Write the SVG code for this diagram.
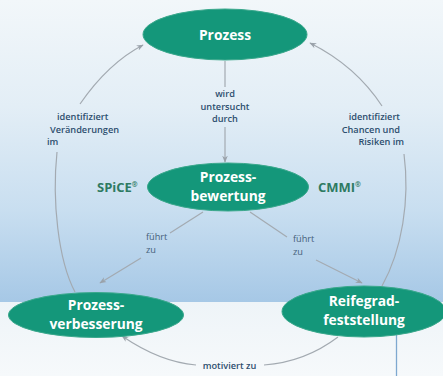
<svg xmlns="http://www.w3.org/2000/svg" width="443" height="376" viewBox="0 0 443 376">
<defs>
<linearGradient id="bgTop" x1="0" y1="0" x2="0" y2="1">
<stop offset="0" stop-color="#f2f7fa"/>
<stop offset="0.35" stop-color="#e3eef6"/>
<stop offset="0.7" stop-color="#c8def0"/>
<stop offset="1" stop-color="#a6c8e6"/>
</linearGradient>
<linearGradient id="bgBot" x1="0" y1="0" x2="0" y2="1">
<stop offset="0" stop-color="#eef4f8"/>
<stop offset="1" stop-color="#f6f9fb"/>
</linearGradient>
<marker id="arr" viewBox="0 0 10 10" refX="9" refY="5" markerWidth="7" markerHeight="7" orient="auto" markerUnits="userSpaceOnUse">
<path d="M0,1 L10,5 L0,9 L3,5 Z" fill="#9aa2aa"/>
</marker>
<style>
.node{fill:#14977a;stroke:#3aa88c;stroke-width:1}
.nt{font-family:"Open Sans","Noto Sans",sans-serif;font-weight:bold;fill:#ffffff;text-anchor:middle;font-size:13.8px}
.el{font-family:"Open Sans","Noto Sans",sans-serif;font-weight:600;fill:#2d4e6e;font-size:9.2px}
.elr{font-family:"Open Sans","Noto Sans",sans-serif;font-weight:normal;fill:#45607a;font-size:9.2px}
.std{font-family:"Open Sans","Noto Sans",sans-serif;font-weight:bold;fill:#2e7a62;font-size:13px}
.c{fill:none;stroke:#a3aab1;stroke-width:1.2}
</style>
</defs>
<rect x="0" y="0" width="443" height="302" fill="url(#bgTop)"/>
<rect x="0" y="302" width="443" height="74" fill="url(#bgBot)"/>
<line x1="396.5" y1="328" x2="396.5" y2="376" stroke="#7ea8d0" stroke-width="1.3"/>
<g id="connectors">
<path class="c" d="M225 61 L225 87"/>
<path class="c" d="M225 127 L225 162" marker-end="url(#arr)"/>
<path class="c" d="M75 292 C58 260 52 200 57 152"/>
<path class="c" d="M80 104 C100 75 120 57 143 45" marker-end="url(#arr)"/>
<path class="c" d="M382 286 C402 250 410 200 404 154"/>
<path class="c" d="M382 106 C365 80 340 58 310 43" marker-end="url(#arr)"/>
<path class="c" d="M203 212 L170 233"/>
<path class="c" d="M141 258 L100 283" marker-end="url(#arr)"/>
<path class="c" d="M250 212 L287 237"/>
<path class="c" d="M316 260 L362 283" marker-end="url(#arr)"/>
<path class="c" d="M338 337 Q305 362 264 365"/>
<path class="c" d="M196 365 Q160 362 122 336" marker-end="url(#arr)"/>
<text class="el" text-anchor="middle"><tspan x="225" y="97">wird</tspan><tspan x="225" y="109.5">untersucht</tspan><tspan x="225" y="122">durch</tspan></text>
<text class="el"><tspan x="57" y="120">identifiziert</tspan><tspan x="50" y="132.5">Veränderungen</tspan><tspan x="47" y="145">im</tspan></text>
<text class="el" text-anchor="end"><tspan x="400" y="120">identifiziert</tspan><tspan x="400" y="132.5">Chancen und</tspan><tspan x="404" y="145">Risiken im</tspan></text>
<text class="elr"><tspan x="146" y="240">führt</tspan><tspan x="146" y="252.5">zu</tspan></text>
<text class="elr"><tspan x="293" y="242">führt</tspan><tspan x="293" y="254.5">zu</tspan></text>
<text class="el" x="229.5" y="369" text-anchor="middle">motiviert zu</text>
</g>
<g id="prozess">
<ellipse class="node" cx="225" cy="34.5" rx="82" ry="25.5"/>
<text class="nt" x="225" y="39.5">Prozess</text>
</g>
<g id="prozessbewertung">
<ellipse class="node" cx="228" cy="187" rx="80.5" ry="24"/>
<text class="nt"><tspan x="228" y="182">Prozess-</tspan><tspan x="228" y="200.5">bewertung</tspan></text>
</g>
<g id="spice">
<text class="std" x="97" y="192">SPiCE<tspan font-size="7" dy="-5">®</tspan></text>
</g>
<g id="cmmi">
<text class="std" x="318" y="192">CMMI<tspan font-size="7" dy="-5">®</tspan></text>
</g>
<g id="prozessverbesserung">
<ellipse class="node" cx="96" cy="315" rx="87.5" ry="22.5"/>
<text class="nt"><tspan x="96" y="310">Prozess-</tspan><tspan x="96" y="328.5">verbesserung</tspan></text>
</g>
<g id="reifegradfeststellung">
<ellipse class="node" cx="364" cy="311.5" rx="82" ry="25.5"/>
<text class="nt"><tspan x="364" y="306">Reifegrad-</tspan><tspan x="364" y="324.5">feststellung</tspan></text>
</g>
</svg>
